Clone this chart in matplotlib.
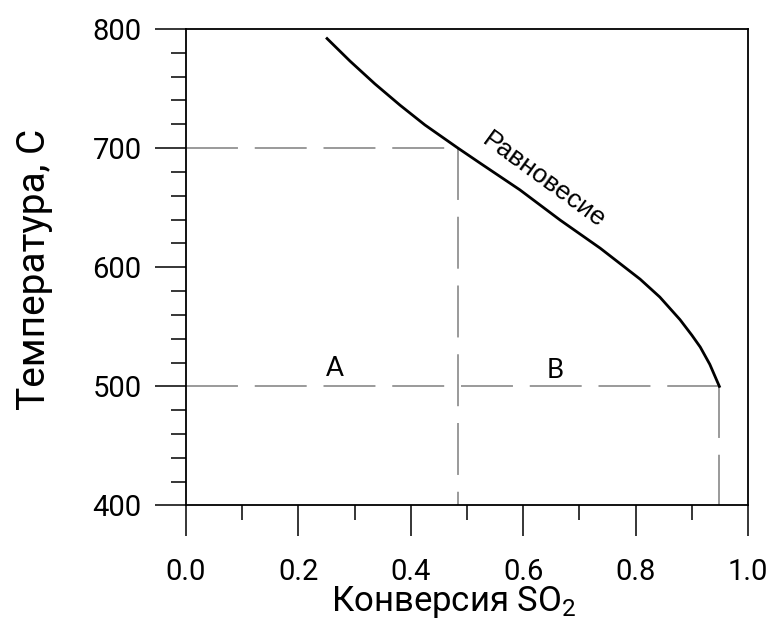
import matplotlib.pyplot as plt
from matplotlib.ticker import MultipleLocator

# equilibrium curve
conv = [0.251, 0.292, 0.336, 0.381, 0.425, 0.484, 0.523, 0.594, 0.666,
        0.737, 0.808, 0.843, 0.879, 0.900, 0.915, 0.932, 0.949]
temp = [792, 773, 754, 736, 719.5, 700, 687.5, 665, 639.5,
        616, 590, 575, 556, 543, 533, 518.5, 500]

# guide lines: (x from, x to, y from, y to)
guide_x = [[0.0, 0.484], [0.484, 0.484], [0.0, 0.949], [0.949, 0.949]]
guide_y = [[700, 700], [700, 400], [500, 500], [500, 400]]

region_names = ['A', 'B']
region_x = [0.265, 0.657]
region_y = [515, 513]

main_font = ['Roboto', 'DejaVu Sans']
plt.rcParams['font.family'] = main_font
plt.rcParams['mathtext.fontset'] = 'custom'
plt.rcParams['mathtext.rm'] = 'Roboto'
plt.rcParams['mathtext.default'] = 'regular'

fig = plt.figure(figsize=(7.71, 6.21), dpi=100)
ax = fig.add_axes([0.2412, 0.186, 0.9702 - 0.2412, 0.9533 - 0.186])

for gx, gy in zip(guide_x, guide_y):
    ax.plot(gx, gy, color='#7f7f7f', lw=1.1, dashes=(34, 11), solid_capstyle='butt')

ax.plot(conv, temp, color='black', lw=2.0)

ax.text(0.637, 673, 'Равновесие', rotation=-36, rotation_mode='anchor',
        ha='center', va='center', fontsize=19, family=['Liberation Sans', 'DejaVu Sans'])
for name, x, y in zip(region_names, region_x, region_y):
    ax.text(x, y, name, ha='center', va='center', fontsize=19,
            family=['Lato', 'DejaVu Sans'])

ax.set_xlim(0, 1.0)
ax.set_ylim(400, 800)
ax.xaxis.set_major_locator(MultipleLocator(0.2))
ax.xaxis.set_minor_locator(MultipleLocator(0.1))
ax.yaxis.set_major_locator(MultipleLocator(100))
ax.yaxis.set_minor_locator(MultipleLocator(20))
ax.xaxis.set_major_formatter(lambda v, p: f'{v:.1f}')
ax.yaxis.set_major_formatter(lambda v, p: f'{v:.0f}')

ax.tick_params(which='major', direction='out', length=22, width=1.1, labelsize=21)
ax.tick_params(which='minor', direction='out', length=11, width=1.1)
ax.tick_params(axis='x', which='major', pad=16)
ax.tick_params(axis='y', which='major', pad=10)
for s in ax.spines.values():
    s.set_linewidth(1.3)

ax.set_xlabel('Конверсия SO$_2$', fontsize=25)
ax.set_ylabel('Температура, С', fontsize=28)
ax.xaxis.label.set_va('baseline')
ax.yaxis.label.set_va('center')
ax.xaxis.set_label_coords(0.477, -0.222)
ax.yaxis.set_label_coords(-0.27, 0.495)

plt.savefig('out.png', dpi=100)
